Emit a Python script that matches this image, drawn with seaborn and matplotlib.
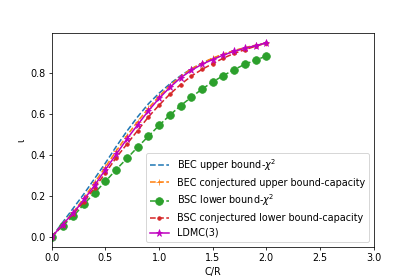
import numpy as np
import matplotlib
matplotlib.use("Agg")
import matplotlib.pyplot as plt
import seaborn as sns
import pandas as pd

# valores
c_r = [0.0, 0.1, 0.2, 0.3, 0.4, 0.5, 0.6, 0.7, 0.8, 0.9, 1.0,
       1.1, 1.2, 1.3, 1.4, 1.5, 1.6, 1.7, 1.8, 1.9, 2.0]

bec_upper_chi2 = [0.0, 0.07, 0.14, 0.21, 0.285, 0.36, 0.44, 0.515, 0.585, 0.648, 0.70,
                  0.745, 0.785, 0.818, 0.846, 0.869, 0.889, 0.906, 0.92, 0.933, 0.944]
bec_conj_upper = [0.0, 0.062, 0.12, 0.19, 0.265, 0.341, 0.418, 0.493, 0.562, 0.626, 0.685,
                  0.737, 0.781, 0.818, 0.847, 0.871, 0.891, 0.908, 0.922, 0.934, 0.945]
bsc_lower_chi2 = [0.0, 0.055, 0.10, 0.16, 0.215, 0.27, 0.328, 0.382, 0.437, 0.49, 0.543,
                  0.593, 0.639, 0.68, 0.72, 0.755, 0.786, 0.815, 0.841, 0.861, 0.881]
bsc_conj_lower = [0.0, 0.058, 0.112, 0.172, 0.24, 0.311, 0.386, 0.452, 0.518, 0.584, 0.642,
                  0.695, 0.742, 0.783, 0.816, 0.844, 0.871, 0.894, 0.912, 0.929, 0.944]
ldmc3 = [0.0, 0.06, 0.116, 0.182, 0.252, 0.328, 0.402, 0.477, 0.546, 0.614, 0.675,
         0.728, 0.775, 0.811, 0.841, 0.864, 0.886, 0.904, 0.919, 0.932, 0.945]

series = [
    ("BEC upper bound-$\\chi^2$", bec_upper_chi2, "#1f77b4", "--", None, 6),
    ("BEC conjectured upper bound-capacity", bec_conj_upper, "#ff7f0e", "--", "+", 7),
    ("BSC lower bound-$\\chi^2$", bsc_lower_chi2, "#2ca02c", "--", "o", 8),
    ("BSC conjectured lower bound-capacity", bsc_conj_lower, "#d62728", "--", ".", 7.5),
    ("LDMC(3)", ldmc3, "#c000c0", "-", "*", 7.5),
]

dpi = 69.2
fig, ax = plt.subplots(figsize=(415 / dpi, 277 / dpi), dpi=dpi)

for nombre, valores, color, ls, mk, ms in series:
    df = pd.DataFrame({"x": c_r, "y": valores})
    sns.lineplot(data=df, x="x", y="y", ax=ax, color=color, linestyle=ls,
                 marker=mk, markersize=ms, markeredgecolor=color,
                 linewidth=1.6, label=nombre, sort=False)

ax.set_xlim(0, 3.0)
ax.set_xlabel("C/R")
ax.set_ylabel("ι")
ax.legend(loc="lower right")

fig.savefig("out.png", dpi=dpi)
